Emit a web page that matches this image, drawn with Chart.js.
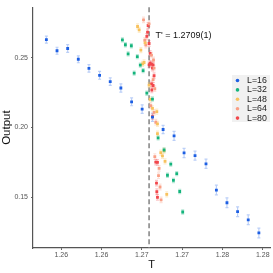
<!DOCTYPE html>
<html>
<head>
<meta charset="utf-8">
<script src="https://cdn.jsdelivr.net/npm/chart.js@4.4.0/dist/chart.umd.min.js"></script>
<style>
  html, body { margin: 0; padding: 0; background: #fff; }
</style>
</head>
<body>
<canvas id="collapse" width="273" height="273"></canvas>
<script>
// series
const seriesLabels = ['L=16', 'L=32', 'L=48', 'L=64', 'L=80'];
const seriesColors = ['#1d5fe3', '#14b47c', '#f8c25e', '#f99f85', '#f2474c'];

const t16 = [1.25816, 1.25948, 1.2608, 1.26212, 1.26344, 1.26476, 1.26608, 1.2674, 1.26873, 1.27004, 1.27132,
  1.27264, 1.274, 1.27524, 1.2766, 1.27796, 1.27925, 1.28056, 1.28188, 1.2832, 1.28452];
const out16 = [0.2629, 0.2549, 0.2565, 0.2488, 0.2423, 0.2373, 0.2328, 0.2282, 0.2183, 0.2131, 0.2073,
  0.1985, 0.1939, 0.1817, 0.1798, 0.1739, 0.1551, 0.1460, 0.1396, 0.1338, 0.1244];
const err16 = [0.0025, 0.0025, 0.0028, 0.0025, 0.0027, 0.0028, 0.0027, 0.003, 0.0028, 0.003, 0.003,
  0.003, 0.0032, 0.0033, 0.0032, 0.0033, 0.0035, 0.0035, 0.0035, 0.0035, 0.0035];

const t32 = [1.26759, 1.26796, 1.2687, 1.2683, 1.26944, 1.26981, 1.26905, 1.27016, 1.27062, 1.27132,
  1.27202, 1.27276, 1.27359, 1.27318, 1.27433, 1.27392, 1.2747, 1.27507];
const out32 = [0.2627, 0.2592, 0.2585, 0.2527, 0.2507, 0.2446, 0.2389, 0.2407, 0.2245, 0.2203,
  0.1925, 0.1838, 0.1737, 0.1657, 0.1669, 0.1620, 0.1541, 0.1394];
const err32 = [0.0015, 0.0015, 0.0015, 0.0015, 0.0015, 0.0015, 0.0015, 0.0015, 0.0015, 0.0015,
  0.0015, 0.0015, 0.0015, 0.0015, 0.0015, 0.0015, 0.0015, 0.0015];

const t48 = [1.26947, 1.26967, 1.27041, 1.26988, 1.27028, 1.27009, 1.2709, 1.27103, 1.27132, 1.27186,
  1.27194, 1.27194, 1.27276, 1.27235, 1.27256, 1.27288, 1.27309];
const out48 = [0.2723, 0.2699, 0.2606, 0.2554, 0.2465, 0.2455, 0.2303, 0.2201, 0.2136, 0.2113,
  0.2025, 0.1955, 0.1833, 0.1819, 0.1796, 0.1756, 0.1520];
const err48 = [0.0018, 0.0018, 0.0018, 0.0018, 0.0018, 0.0018, 0.0018, 0.0018, 0.0018, 0.0018,
  0.0018, 0.0018, 0.0018, 0.0018, 0.0018, 0.0018, 0.0018];

const t64 = [1.27021, 1.2709, 1.27037, 1.2705, 1.2712, 1.27145, 1.27152, 1.2714, 1.27161, 1.27111,
  1.27152, 1.27173, 1.27161, 1.27214, 1.27207, 1.27226, 1.27239];
const out64 = [0.2770, 0.2742, 0.2624, 0.2589, 0.2518, 0.2483, 0.2425, 0.2342, 0.2277, 0.2155,
  0.2108, 0.2037, 0.1791, 0.1706, 0.1654, 0.1573, 0.1481];
const err64 = [0.002, 0.002, 0.002, 0.002, 0.002, 0.002, 0.002, 0.002, 0.002, 0.002,
  0.002, 0.002, 0.002, 0.002, 0.002, 0.002, 0.002];

const t80 = [1.27078, 1.27071, 1.27062, 1.2709, 1.27103, 1.2709, 1.27103, 1.2712, 1.2714, 1.27132,
  1.27152, 1.2712, 1.2714, 1.27124, 1.27132, 1.27173, 1.27194, 1.27182, 1.27186, 1.27194];
const out80 = [0.2730, 0.2683, 0.2652, 0.2601, 0.2530, 0.2448, 0.2460, 0.2453, 0.2448, 0.2425,
  0.2370, 0.2312, 0.2300, 0.2268, 0.2077, 0.1751, 0.1749, 0.1601, 0.1539, 0.1499];
const err80 = [0.002, 0.002, 0.002, 0.002, 0.002, 0.002, 0.002, 0.002, 0.002, 0.002,
  0.002, 0.002, 0.002, 0.002, 0.002, 0.002, 0.002, 0.002, 0.002, 0.002];

// axes
const xTicks = [1.26, 1.265, 1.27, 1.275, 1.28, 1.285];
const xTickLabels = ['1.26', '1.26', '1.27', '1.27', '1.28', '1.28'];
const yTicks = [0.15, 0.20, 0.25];
const yTickLabels = ['0.15', '0.20', '0.25'];

const tCritical = 1.2709;
const tCriticalLabel = "T' = 1.2709(1)";

const allT = [t16, t32, t48, t64, t80];
const allOut = [out16, out32, out48, out64, out80];
const allErr = [err16, err32, err48, err64, err80];

function withAlpha(hex, a) {
  const n = parseInt(hex.slice(1), 16);
  return 'rgba(' + (n >> 16) + ',' + ((n >> 8) & 255) + ',' + (n & 255) + ',' + a + ')';
}

const datasets = seriesLabels.map((label, i) => ({
  label: label,
  data: allT[i].map((t, j) => ({ x: t, y: allOut[i][j] })),
  errors: allErr[i],
  backgroundColor: seriesColors[i],
  borderColor: seriesColors[i],
  errorColor: withAlpha(seriesColors[i], 0.3),
  pointStyle: 'rect',
  pointRadius: 2,
  pointBorderWidth: 0,
  pointHoverRadius: 2
}));

const errorBars = {
  id: 'errorBars',
  beforeDatasetsDraw(chart) {
    const ctx = chart.ctx;
    const yScale = chart.scales.y;
    const area = chart.chartArea;
    // dashed critical line
    const xc = chart.scales.x.getPixelForValue(tCritical);
    ctx.save();
    ctx.strokeStyle = '#8a8a8a';
    ctx.lineWidth = 1.6;
    ctx.setLineDash([5, 3]);
    ctx.beginPath();
    ctx.moveTo(xc, area.top);
    ctx.lineTo(xc, area.bottom);
    ctx.stroke();
    ctx.restore();

    chart.data.datasets.forEach((ds, i) => {
      const meta = chart.getDatasetMeta(i);
      ctx.save();
      ctx.strokeStyle = ds.errorColor;
      ctx.lineWidth = 1.2;
      meta.data.forEach((pt, j) => {
        const v = ds.data[j].y;
        const top = yScale.getPixelForValue(v + ds.errors[j]);
        const bot = yScale.getPixelForValue(v - ds.errors[j]);
        ctx.beginPath();
        ctx.moveTo(pt.x, top); ctx.lineTo(pt.x, bot);
        ctx.moveTo(pt.x - 1.5, top); ctx.lineTo(pt.x + 1.5, top);
        ctx.moveTo(pt.x - 1.5, bot); ctx.lineTo(pt.x + 1.5, bot);
        ctx.stroke();
      });
      ctx.restore();
    });
  },
  afterDraw(chart) {
    const ctx = chart.ctx;
    const xc = chart.scales.x.getPixelForValue(tCritical);
    ctx.save();
    ctx.fillStyle = '#111';
    ctx.font = '9px "Liberation Sans", Arial, sans-serif';
    ctx.textBaseline = 'middle';
    ctx.fillText(tCriticalLabel, xc + 6.5, 36);

    // legend
    ctx.fillStyle = '#f1f1f1';
    ctx.fillRect(232, 75, 38, 47);
    ctx.font = '8.8px "Liberation Sans", Arial, sans-serif';
    seriesLabels.forEach((label, i) => {
      const y = 80.5 + i * 9.4;
      ctx.fillStyle = seriesColors[i];
      ctx.beginPath();
      ctx.arc(237.5, y, 1.8, 0, Math.PI * 2);
      ctx.fill();
      ctx.fillStyle = '#222';
      ctx.fillText(label, 247, y);
    });
    ctx.restore();
  }
};

new Chart(document.getElementById('collapse'), {
  type: 'scatter',
  data: { datasets: datasets },
  options: {
    responsive: false,
    animation: false,
    layout: { padding: { top: 3, right: 3, left: 0, bottom: 0 } },
    plugins: {
      legend: { display: false },
      tooltip: { enabled: false }
    },
    scales: {
      x: {
        type: 'linear',
        min: 1.2565,
        max: 1.2859,
        afterBuildTicks: (scale) => { scale.ticks = xTicks.map(v => ({ value: v })); },
        afterFit: (scale) => { scale.height = 25; },
        ticks: {
          callback: (v, i) => xTickLabels[i],
          color: '#555',
          padding: 1,
          maxRotation: 0,
          font: { family: '"Liberation Sans", Arial, sans-serif', size: 7 }
        },
        grid: { drawOnChartArea: false, tickLength: 2, color: '#666' },
        border: { display: true, color: '#555', width: 1.2 },
        title: {
          display: true,
          text: 'T',
          color: '#111',
          padding: { top: 0, bottom: 1 },
          font: { family: '"Liberation Sans", Arial, sans-serif', size: 11 }
        }
      },
      y: {
        type: 'linear',
        min: 0.1136,
        max: 0.2861,
        afterBuildTicks: (scale) => { scale.ticks = yTicks.map(v => ({ value: v })); },
        afterFit: (scale) => { scale.width = 33; },
        ticks: {
          callback: (v, i) => yTickLabels[i],
          color: '#555',
          padding: 3,
          font: { family: '"Liberation Sans", Arial, sans-serif', size: 7 }
        },
        grid: { drawOnChartArea: false, tickLength: 2, color: '#666' },
        border: { display: true, color: '#555', width: 1.2 },
        title: {
          display: true,
          text: 'Output',
          color: '#111',
          padding: { top: 0, bottom: 0 },
          font: { family: '"Liberation Sans", Arial, sans-serif', size: 11.5 }
        }
      }
    }
  },
  plugins: [errorBars]
});
</script>
</body>
</html>
